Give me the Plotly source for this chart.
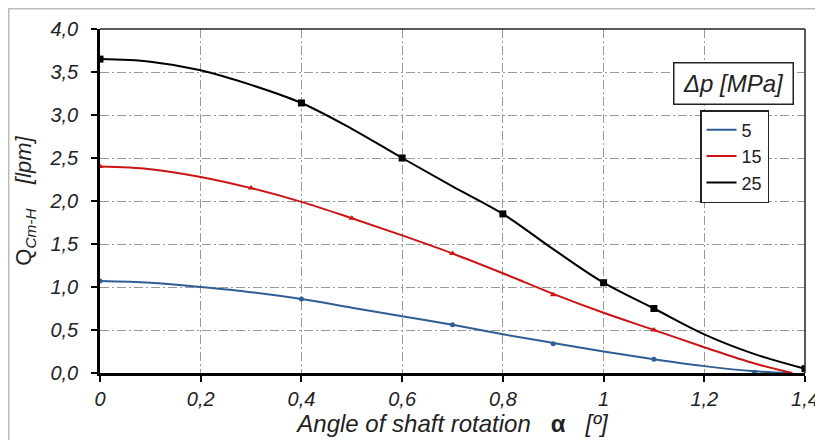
import plotly.graph_objects as go

# measured marker points
x_5 = [0, 0.4, 0.7, 0.9, 1.1, 1.3]
q_5 = [1.07, 0.86, 0.56, 0.34, 0.16, 0.01]
x_15 = [0, 0.3, 0.5, 0.7, 0.9, 1.1]
q_15 = [2.40, 2.15, 1.80, 1.39, 0.91, 0.50]
x_25 = [0, 0.4, 0.6, 0.8, 1.0, 1.1, 1.4]
q_25 = [3.65, 3.14, 2.50, 1.85, 1.05, 0.75, 0.05]

# curve points
cx_5 = [0, 0.1, 0.2, 0.3, 0.4, 0.5, 0.6, 0.7, 0.8, 0.9, 1.0, 1.1, 1.2, 1.3, 1.37]
cq_5 = [1.07, 1.05, 1.00, 0.94, 0.86, 0.76, 0.66, 0.56, 0.45, 0.35, 0.25, 0.16, 0.08, 0.02, 0.0]
cx_15 = [0, 0.1, 0.2, 0.3, 0.4, 0.5, 0.6, 0.7, 0.8, 0.9, 1.0, 1.1, 1.2, 1.3, 1.375]
cq_15 = [2.40, 2.37, 2.28, 2.15, 1.99, 1.80, 1.60, 1.39, 1.16, 0.92, 0.70, 0.50, 0.30, 0.11, 0.0]
cx_25 = [0, 0.1, 0.2, 0.3, 0.4, 0.5, 0.6, 0.7, 0.8, 0.9, 1.0, 1.1, 1.2, 1.3, 1.4]
cq_25 = [3.65, 3.62, 3.52, 3.35, 3.14, 2.84, 2.50, 2.17, 1.85, 1.44, 1.05, 0.75, 0.45, 0.22, 0.05]

series_names = ["5", "15", "25"]
colors = ["#2F5D94", "#CC1414", "#000000"]

OFF = 8  # page body margin of the generated html
W, H = 823 - OFF, 440 - OFF
L, R, T, B = 100 - OFF, 18, 29 - OFF, 67
pw, ph = W - L - R, H - T - B


def px(p):
    return (p - OFF - L) / pw


def py(p):
    return (H - B - (p - OFF)) / ph


fig = go.Figure()
curves = [(cx_5, cq_5), (cx_15, cq_15), (cx_25, cq_25)]
marks = [(x_5, q_5, "circle", 5), (x_15, q_15, "triangle-up", 6), (x_25, q_25, "square", 7)]
for i in range(3):
    cx, cq = curves[i]
    fig.add_trace(go.Scatter(x=cx, y=cq, name=series_names[i], mode="lines",
                             line=dict(color=colors[i], width=2, shape="spline", smoothing=1.0)))
for i in range(3):
    mx, mq, sym, sz = marks[i]
    fig.add_trace(go.Scatter(x=mx, y=mq, mode="markers", showlegend=False,
                             marker=dict(symbol=sym, size=sz, color=colors[i])))

tf = dict(family="Liberation Sans", size=20, color="#222222", style="italic")
grid = "9px,3px,2px,3px"

fig.update_layout(
    width=W, height=H,
    margin=dict(l=L, r=R, t=T, b=B, autoexpand=False),
    paper_bgcolor="white", plot_bgcolor="white",
    separators=",.",
    font=dict(family="Liberation Sans", color="#222222"),
    showlegend=True,
    legend=dict(
        x=px(700), y=py(110), xanchor="left", yanchor="top",
        bordercolor="#222222", borderwidth=1.5, bgcolor="white",
        font=dict(family="Liberation Sans", size=18, color="#222222"),
        itemwidth=30,
    ),
    xaxis=dict(
        range=[0, 1.4], dtick=0.2, tick0=0, automargin=False,
        showgrid=True, gridcolor="#999999", griddash=grid, gridwidth=1,
        showline=True, linecolor="black", linewidth=2.5, mirror=False,
        ticks="outside", ticklen=6, tickwidth=2, tickcolor="black",
        tickfont=tf, zeroline=False,
        title=dict(text="<i>Angle of shaft rotation</i>   <b>α</b>   <i>[º]</i>",
                   font=dict(family="Liberation Sans", size=24, color="#222222"), standoff=6),
    ),
    yaxis=dict(
        range=[0, 4.0], dtick=0.5, tick0=0, tickformat=".1f", automargin=False,
        showgrid=True, gridcolor="#999999", griddash=grid, gridwidth=1,
        showline=True, linecolor="black", linewidth=2.5, mirror=False,
        ticks="outside", ticklen=6, tickwidth=2, tickcolor="black",
        tickfont=tf, zeroline=False, ticklabelstandoff=9,
        title=dict(text="Q<sub><i>Cm-H</i></sub>    <i>[lpm]</i>",
                   font=dict(family="Liberation Sans", size=22, color="#222222"), standoff=12),
    ),
)

# top and right plot border (thinner)
fig.add_shape(type="line", xref="paper", yref="paper", x0=0, x1=1, y0=1, y1=1,
              line=dict(color="#222222", width=1.5))
fig.add_shape(type="line", xref="paper", yref="paper", x0=1, x1=1, y0=0, y1=1,
              line=dict(color="#222222", width=1.5))

# outer light frame (top and left edges visible)
fig.add_shape(type="rect", xref="paper", yref="paper",
              x0=px(8.75), x1=px(840), y0=py(460), y1=py(8.75),
              line=dict(color="#BBBBBB", width=1.5), layer="below")

# legend title box
fig.add_annotation(xref="paper", yref="paper",
                   x=px(733), y=py(84),
                   text="<i>Δp [MPa]</i>", showarrow=False,
                   font=dict(family="Liberation Sans", size=24, color="#222222"),
                   bordercolor="#222222", borderwidth=1.5, bgcolor="white",
                   width=116, height=38, xanchor="center", yanchor="middle")

fig.write_html("out.html")
